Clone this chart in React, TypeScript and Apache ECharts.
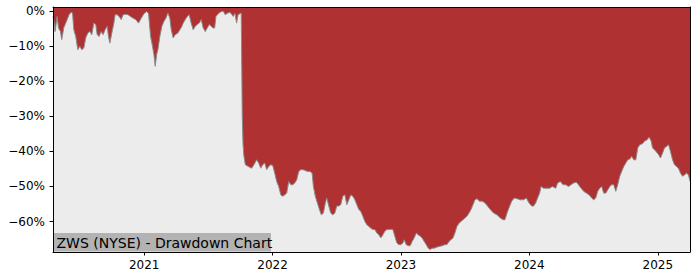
import React, { useEffect, useRef } from "react";
import * as echarts from "echarts";

const years = [
  2020.290, 2020.296, 2020.306, 2020.322, 2020.333, 2020.348, 2020.358, 2020.374, 2020.395, 2020.415,
  2020.431, 2020.442, 2020.452, 2020.467, 2020.483, 2020.499, 2020.514, 2020.530, 2020.545, 2020.561,
  2020.577, 2020.592, 2020.608, 2020.623, 2020.634, 2020.649, 2020.665, 2020.680, 2020.696, 2020.712,
  2020.722, 2020.733, 2020.748, 2020.764, 2020.774, 2020.789, 2020.805, 2020.821, 2020.836, 2020.857,
  2020.873, 2020.894, 2020.914, 2020.935, 2020.956, 2020.977, 2020.998, 2021.019, 2021.034, 2021.050,
  2021.065, 2021.076, 2021.086, 2021.097, 2021.107, 2021.122, 2021.138, 2021.154, 2021.169, 2021.185,
  2021.200, 2021.211, 2021.226, 2021.242, 2021.263, 2021.278, 2021.294, 2021.304, 2021.320, 2021.335,
  2021.351, 2021.366, 2021.382, 2021.398, 2021.413, 2021.429, 2021.444, 2021.460, 2021.476, 2021.491,
  2021.507, 2021.522, 2021.538, 2021.549, 2021.559, 2021.580, 2021.600, 2021.616, 2021.632, 2021.647,
  2021.668, 2021.684, 2021.694, 2021.707, 2021.720, 2021.731, 2021.756, 2021.764, 2021.770, 2021.777,
  2021.788, 2021.811, 2021.837, 2021.855, 2021.876, 2021.892, 2021.908, 2021.923, 2021.939, 2021.954,
  2021.970, 2021.986, 2022.001, 2022.017, 2022.032, 2022.048, 2022.064, 2022.079, 2022.095, 2022.110,
  2022.126, 2022.142, 2022.157, 2022.173, 2022.188, 2022.204, 2022.220, 2022.235, 2022.251, 2022.271,
  2022.292, 2022.308, 2022.318, 2022.333, 2022.349, 2022.365, 2022.380, 2022.396, 2022.411, 2022.422,
  2022.438, 2022.453, 2022.469, 2022.485, 2022.500, 2022.516, 2022.531, 2022.547, 2022.563, 2022.578,
  2022.594, 2022.609, 2022.625, 2022.641, 2022.656, 2022.672, 2022.687, 2022.703, 2022.719, 2022.734,
  2022.750, 2022.765, 2022.781, 2022.797, 2022.812, 2022.828, 2022.843, 2022.859, 2022.874, 2022.890,
  2022.906, 2022.921, 2022.937, 2022.952, 2022.968, 2022.984, 2022.999, 2023.015, 2023.025, 2023.041,
  2023.056, 2023.072, 2023.087, 2023.103, 2023.119, 2023.134, 2023.150, 2023.165, 2023.181, 2023.197,
  2023.212, 2023.228, 2023.243, 2023.259, 2023.280, 2023.300, 2023.321, 2023.342, 2023.358, 2023.374,
  2023.389, 2023.405, 2023.420, 2023.436, 2023.452, 2023.467, 2023.483, 2023.498, 2023.514, 2023.530,
  2023.545, 2023.561, 2023.576, 2023.592, 2023.612, 2023.633, 2023.654, 2023.674, 2023.696, 2023.721,
  2023.748, 2023.774, 2023.795, 2023.810, 2023.826, 2023.841, 2023.862, 2023.883, 2023.904, 2023.929,
  2023.955, 2023.976, 2023.997, 2024.018, 2024.033, 2024.049, 2024.064, 2024.080, 2024.091, 2024.111,
  2024.138, 2024.158, 2024.179, 2024.205, 2024.220, 2024.241, 2024.262, 2024.283, 2024.304, 2024.325,
  2024.345, 2024.366, 2024.382, 2024.403, 2024.423, 2024.444, 2024.465, 2024.485, 2024.501, 2024.517,
  2024.532, 2024.548, 2024.563, 2024.579, 2024.595, 2024.610, 2024.626, 2024.641, 2024.657, 2024.673,
  2024.688, 2024.704, 2024.719, 2024.735, 2024.751, 2024.766, 2024.782, 2024.797, 2024.813, 2024.829,
  2024.844, 2024.860, 2024.881, 2024.896, 2024.917, 2024.933, 2024.949, 2024.959, 2024.974, 2024.990,
  2025.006, 2025.021, 2025.037, 2025.052, 2025.068, 2025.084, 2025.099, 2025.115, 2025.130, 2025.146,
  2025.161, 2025.177, 2025.193, 2025.208, 2025.224, 2025.239, 2025.251,
];

const drawdown = [
  -1.5, -2.4, -5.8, -1.5, -4.8, -5.8, -8.1, -4.7, -2.9, -1.0,
  -0.3, -0.5, -5.3, -7.2, -11.0, -10.0, -11.0, -10.5, -7.6, -6.2,
  -5.8, -6.7, -3.4, -3.8, -6.7, -7.2, -5.8, -6.7, -5.3, -4.3,
  -7.2, -9.1, -6.2, -3.4, -1.0, -1.0, -1.5, -2.4, -1.0, -0.9,
  -1.0, -1.5, -2.0, -2.4, -3.4, -2.0, -0.7, -0.1, -0.6, -7.2,
  -10.0, -12.4, -15.7, -12.4, -11.0, -7.2, -4.3, -2.9, -2.0, -0.5,
  -2.0, -5.3, -7.6, -6.7, -6.2, -5.3, -4.3, -3.4, -2.4, -1.5,
  -1.0, -3.4, -5.3, -4.3, -3.8, -3.4, -2.4, -4.8, -5.8, -4.8,
  -3.8, -4.3, -4.8, -4.8, -1.5, -0.6, -0.1, 0, -1.0, -0.6,
  -0.3, -1.0, -1.5, -0.6, -3.4, -1.0, -0.5, -30.0, -38.0, -41.4,
  -43.8, -44.3, -44.8, -43.8, -42.4, -43.3, -44.8, -43.8, -43.3, -45.2,
  -44.3, -43.8, -44.0, -46.2, -48.6, -50.0, -52.4, -52.8, -52.4, -51.9,
  -48.6, -49.5, -49.5, -49.0, -48.1, -45.7, -45.2, -45.2, -45.4, -45.7,
  -45.7, -46.2, -50.0, -52.8, -54.7, -56.6, -58.1, -57.6, -54.7, -53.3,
  -55.6, -57.6, -58.1, -57.6, -55.6, -55.6, -55.2, -52.8, -52.4, -55.2,
  -53.8, -52.4, -52.8, -53.8, -55.2, -56.6, -57.1, -58.5, -60.0, -60.9,
  -61.4, -61.9, -62.3, -62.3, -63.3, -63.8, -64.7, -63.8, -62.8, -62.3,
  -62.3, -62.2, -62.3, -64.2, -66.1, -66.6, -66.6, -66.1, -65.2, -66.6,
  -66.9, -66.9, -65.7, -64.7, -63.3, -63.8, -64.2, -64.7, -65.7, -66.6,
  -67.6, -68.0, -67.6, -67.6, -67.3, -67.1, -66.9, -66.6, -66.6, -65.7,
  -65.2, -64.7, -63.3, -61.4, -60.5, -60.0, -59.5, -59.0, -58.5, -57.6,
  -56.6, -55.2, -53.8, -53.5, -54.2, -54.2, -54.7, -55.6, -56.6, -57.6,
  -58.1, -59.0, -59.5, -59.5, -57.6, -56.1, -54.2, -53.3, -53.5, -53.8,
  -53.8, -53.3, -54.7, -55.6, -55.6, -54.7, -53.3, -51.9, -50.0, -50.5,
  -50.5, -50.5, -50.0, -50.5, -49.0, -48.6, -49.5, -49.5, -50.0, -49.5,
  -49.0, -48.8, -49.5, -50.5, -51.4, -51.9, -52.4, -53.3, -53.8, -53.3,
  -51.4, -50.5, -50.0, -51.9, -51.9, -51.0, -50.0, -49.5, -49.5, -51.4,
  -49.5, -47.1, -45.7, -44.3, -43.3, -42.4, -42.2, -41.4, -42.4, -42.4,
  -39.0, -38.1, -37.8, -37.1, -36.7, -35.9, -37.1, -39.0, -39.5, -40.2,
  -40.9, -41.9, -40.5, -39.0, -38.6, -38.1, -40.0, -42.4, -43.8, -44.3,
  -44.8, -46.2, -47.1, -46.7, -46.2, -46.7, -48.5,
];

const yearTicks = [2021, 2022, 2023, 2024, 2025];
const pctTicks = [0, -10, -20, -30, -40, -50, -60];
const chartTitle = "ZWS (NYSE) - Drawdown Chart";

const FONT = "DejaVu Sans";

export default function App() {
  const ref = useRef<HTMLDivElement>(null);

  useEffect(() => {
    if (!ref.current) return;
    const chart = echarts.init(ref.current, null, { renderer: "svg" });
    const data = years.map((y, i) => [y, drawdown[i]]);
    const fmtPct = (v: number) => (v === 0 ? "0%" : (v < 0 ? "\u2212" : "") + Math.abs(v) + "%");

    chart.setOption({
      animation: false,
      backgroundColor: "#ffffff",
      grid: {
        left: 53,
        right: 10,
        top: 7,
        bottom: 28,
        show: true,
        backgroundColor: "#ececec",
        borderWidth: 0,
        containLabel: false,
        outerBoundsMode: "none",
      },
      xAxis: [
        {
          type: "value",
          min: "dataMin",
          max: "dataMax",
          z: 10,
          axisLine: { show: true, onZero: false, lineStyle: { color: "#000", width: 1 } },
          axisTick: {
            show: true,
            length: 3.5,
            customValues: yearTicks,
            lineStyle: { color: "#000", width: 1 },
          },
          axisLabel: {
            customValues: yearTicks,
            formatter: (v: number) => String(Math.round(v)),
            color: "#000",
            fontFamily: FONT,
            fontSize: 12,
            margin: 7,
          },
          splitLine: { show: false },
        },
        {
          type: "value",
          position: "top",
          min: "dataMin",
          max: "dataMax",
          z: 10,
          axisLine: { show: true, onZero: false, lineStyle: { color: "#000", width: 1 } },
          axisTick: { show: false },
          axisLabel: { show: false },
          splitLine: { show: false },
        },
      ],
      yAxis: [
        {
          type: "value",
          min: -68.7,
          max: 1.2,
          z: 10,
          axisLine: { show: true, onZero: false, lineStyle: { color: "#000", width: 1 } },
          axisTick: {
            show: true,
            length: 3.5,
            customValues: pctTicks,
            lineStyle: { color: "#000", width: 1 },
          },
          axisLabel: {
            customValues: pctTicks,
            formatter: fmtPct,
            color: "#000",
            fontFamily: FONT,
            fontSize: 12,
            margin: 8,
          },
          splitLine: { show: false },
        },
        {
          type: "value",
          position: "right",
          min: -68.7,
          max: 1.2,
          z: 10,
          axisLine: { show: true, onZero: false, lineStyle: { color: "#000", width: 1 } },
          axisTick: { show: false },
          axisLabel: { show: false },
          splitLine: { show: false },
        },
      ],
      series: [
        {
          type: "line",
          data,
          xAxisIndex: 0,
          yAxisIndex: 0,
          showSymbol: false,
          symbol: "none",
          smooth: false,
          lineStyle: { color: "#8a8a8a", width: 1 },
          areaStyle: { origin: "end", color: "#b03131", opacity: 1 },
          z: 2,
        },
      ],
      graphic: [
        {
          type: "group",
          z: 100,
          children: [
            {
              type: "rect",
              shape: { x: 54, y: 233, width: 217, height: 18.5 },
              style: { fill: "#b3b3b3" },
            },
            {
              type: "text",
              x: 56.5,
              y: 242.5,
              style: {
                text: chartTitle,
                fill: "#000",
                font: `14px "${FONT}"`,
                verticalAlign: "middle",
                align: "left",
              },
            },
          ],
        },
      ],
    });

    return () => chart.dispose();
  }, []);

  return <div ref={ref} style={{ width: 700, height: 280, position: "absolute", left: 0, top: 0 }} />;
}
